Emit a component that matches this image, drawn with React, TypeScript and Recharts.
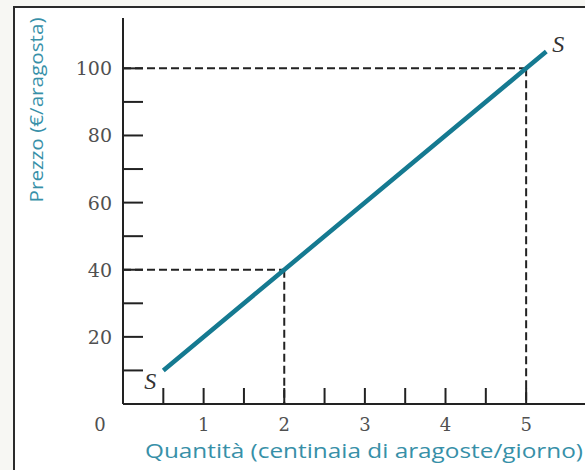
import React from 'react';
import { LineChart, Line, XAxis, YAxis, ReferenceLine } from 'recharts';

// curva di offerta S (quantità in centinaia, prezzo in €)
const quantita = [0.5, 2, 5, 5.25];
const prezzo = [10, 40, 100, 105];

// punti evidenziati con le linee tratteggiate
const puntiQ = [2, 5];
const puntiP = [40, 100];

const xTicks = [0, 0.5, 1, 1.5, 2, 2.5, 3, 3.5, 4, 4.5, 5];
const yTicks = [10, 20, 30, 40, 50, 60, 70, 80, 90, 100];

const dati = quantita.map((q, i) => ({ q, p: prezzo[i] }));

const TEAL = '#157a91';
const TEAL_TESTO = '#3790a8';
const NERO = '#222';

const TickX = ({ x, y, payload }: any) => {
  const v = payload.value;
  return (
    <g>
      {v > 0 && <line x1={x} y1={y} x2={x} y2={y - 16} stroke={NERO} strokeWidth={2} />}
      {(v === 0 || Number.isInteger(v)) && (
        <text
          x={v === 0 ? x - 23 : x}
          y={y + 27}
          textAnchor="middle"
          fontFamily="DejaVu Serif"
          fontSize={18}
          fill="#505050"
        >
          {v}
        </text>
      )}
    </g>
  );
};

const TickY = ({ x, y, payload }: any) => {
  const v = payload.value;
  return (
    <g>
      <line x1={x} y1={y} x2={x + 20} y2={y} stroke={NERO} strokeWidth={2} />
      {v % 20 === 0 && (
        <text
          x={x - 11}
          y={y + 7}
          textAnchor="end"
          fontFamily="DejaVu Serif"
          fontSize={19}
          fill="#505050"
        >
          {v}
        </text>
      )}
    </g>
  );
};

const EtichettaS = ({ x, y, index }: any) => {
  if (index === 0) {
    return (
      <text x={x - 13} y={y + 19} textAnchor="middle" fontFamily="Liberation Serif" fontStyle="italic" fontSize={24} fill="#333">
        S
      </text>
    );
  }
  if (index === dati.length - 1) {
    return (
      <text x={x + 12} y={y} textAnchor="middle" fontFamily="Liberation Serif" fontStyle="italic" fontSize={24} fill="#333">
        S
      </text>
    );
  }
  return null;
};

export default function App() {
  return (
    <div style={{ position: 'absolute', left: 0, top: 0, width: 585, height: 470, background: '#f7f7f3', overflow: 'hidden' }}>
      <div
        style={{
          position: 'absolute',
          left: 13,
          top: 6,
          width: 600,
          height: 500,
          background: '#fff',
          borderLeft: '2px solid #2b2b2b',
          borderTop: '2px solid #2b2b2b',
        }}
      />
      <div style={{ position: 'absolute', left: 0, top: 0 }}>
        <LineChart width={585} height={470} data={dati} margin={{ top: 18, right: 0, bottom: 0, left: 0 }}>
          <XAxis
            dataKey="q"
            type="number"
            domain={[0, 5.73]}
            ticks={xTicks}
            interval={0}
            height={66}
            tickSize={0}
            tickMargin={0}
            tickLine={false}
            axisLine={{ stroke: NERO, strokeWidth: 2 }}
            tick={<TickX />}
            label={{
              content: ({ viewBox }: any) => (
                <text
                  x={viewBox.x + 22}
                  y={viewBox.y + 54}
                  fontFamily="Open Sans"
                  fontWeight={400}
                  fontSize={20}
                  fill={TEAL_TESTO}
                  textLength={438}
                  lengthAdjust="spacingAndGlyphs"
                >
                  Quantità (centinaia di aragoste/giorno)
                </text>
              ),
            }}
          />
          <YAxis
            type="number"
            domain={[0, 115]}
            ticks={yTicks}
            interval={0}
            width={123}
            tickSize={0}
            tickMargin={0}
            tickLine={false}
            axisLine={{ stroke: NERO, strokeWidth: 2 }}
            tick={<TickY />}
            label={{
              content: () => (
                <text
                  x={43}
                  y={110}
                  textAnchor="middle"
                  transform="rotate(-90, 43, 110)"
                  fontFamily="Open Sans"
                  fontWeight={400}
                  fontSize={19}
                  fill={TEAL_TESTO}
                  textLength={185}
                  lengthAdjust="spacingAndGlyphs"
                >
                  Prezzo (€/aragosta)
                </text>
              ),
            }}
          />
          {puntiQ.map((q, i) => (
            <ReferenceLine
              key={`h${i}`}
              segment={[{ x: 0, y: puntiP[i] }, { x: q, y: puntiP[i] }]}
              stroke={NERO}
              strokeWidth={2}
              strokeDasharray="8 4"
            />
          ))}
          {puntiQ.map((q, i) => (
            <ReferenceLine
              key={`v${i}`}
              segment={[{ x: q, y: puntiP[i] }, { x: q, y: 0 }]}
              stroke={NERO}
              strokeWidth={2}
              strokeDasharray="8 4"
            />
          ))}
          <Line
            type="linear"
            dataKey="p"
            stroke={TEAL}
            strokeWidth={4.5}
            dot={false}
            isAnimationActive={false}
            label={<EtichettaS />}
          />
        </LineChart>
      </div>
    </div>
  );
}
